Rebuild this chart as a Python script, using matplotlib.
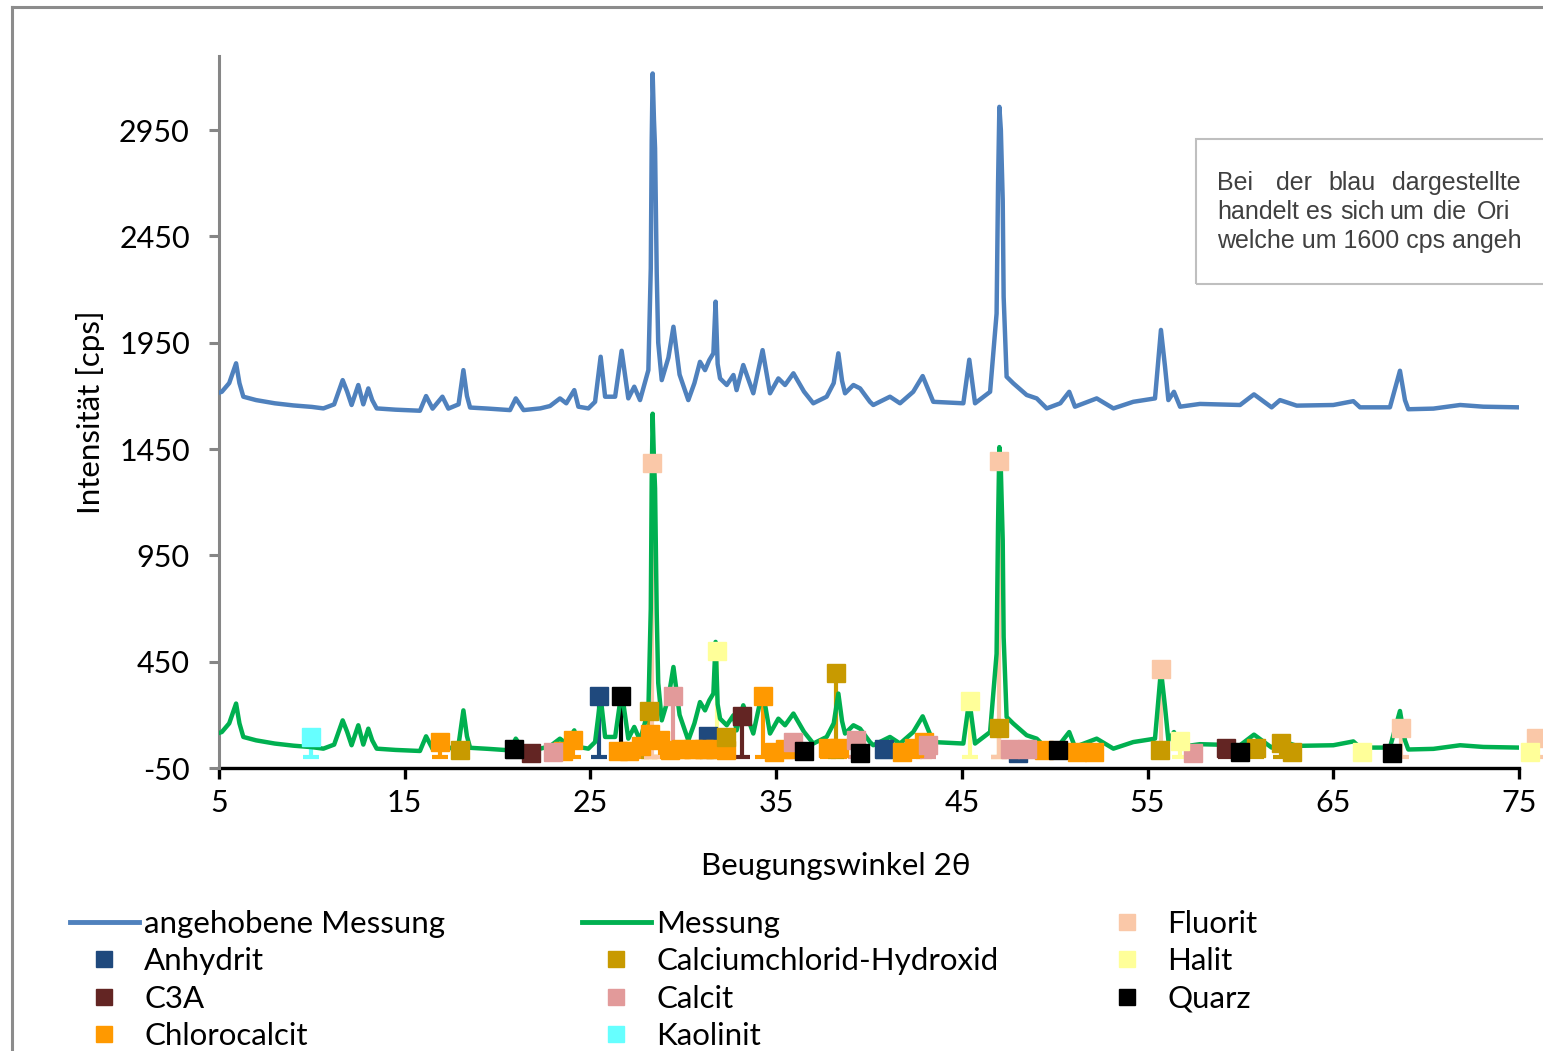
import numpy as np
import matplotlib.pyplot as plt
from matplotlib.lines import Line2D

plt.rcParams['font.family'] = ['Lato', 'DejaVu Sans']
plt.rcParams['axes.unicode_minus'] = False

winkel = [5.0, 5.15, 5.55, 5.92, 6.1, 6.31, 7.0, 8.0, 9.0, 10.0, 10.62, 11.2, 11.66, 11.9,
          12.14, 12.5, 12.77, 13.04, 13.25, 13.49, 14.5, 15.82, 16.15, 16.5, 17.03, 17.35,
          17.9, 18.16, 18.35, 18.52, 19.5, 20.67, 20.98, 21.4, 22.3, 22.82, 23.36, 23.7,
          24.13, 24.35, 24.89, 25.25, 25.55, 25.79, 26.33, 26.68, 27.04, 27.36, 27.67,
          28.12, 28.25, 28.3, 28.35, 28.42, 28.48, 28.57, 28.65, 28.84, 29.2, 29.47, 29.8,
          30.27, 30.6, 30.9, 31.17, 31.4, 31.62, 31.74, 31.85, 31.98, 32.34, 32.7, 32.87,
          33.23, 33.77, 34.27, 34.67, 35.12, 35.48, 35.93, 36.5, 37.0, 37.72, 38.1, 38.35,
          38.55, 38.71, 39.16, 39.52, 40.05, 40.23, 41.13, 41.67, 42.38, 42.89, 43.46,
          45.08, 45.4, 45.71, 46.52, 46.87, 46.95, 47.02, 47.1, 47.2, 47.25, 47.41, 47.77,
          48.49, 49.03, 49.57, 50.3, 50.78, 51.09, 52.26, 53.16, 54.23, 55.4, 55.72, 55.94,
          56.12, 56.42, 56.75, 57.82, 59.98, 60.73, 61.68, 62.13, 63.03, 65.0, 66.08, 66.44,
          68.05, 68.59, 68.86, 69.04, 70.39, 71.83, 73.08, 74.97]
messung = [115, 119, 160, 253, 160, 96, 80, 65, 55, 48, 41, 60, 174, 120,
           57, 151, 60, 135, 80, 41, 35, 30, 99, 40, 96, 40,
           60, 221, 100, 45, 40, 33, 88, 33, 41, 52, 88, 65,
           127, 49, 41, 72, 284, 96, 96, 312, 88, 143, 80,
           221, 700, 1300, 1616, 1400, 1265, 677, 350, 174, 280, 425, 200,
           80, 160, 260, 221, 268, 300, 543, 250, 182, 151, 198, 127,
           245, 112, 315, 112, 182, 151, 206, 120, 65, 96, 160, 300,
           170, 112, 151, 135, 72, 57, 96, 65, 119, 193, 72,
           65, 270, 65, 119, 487, 1100, 1459, 1350, 1021, 566, 190, 159,
           104, 88, 41, 65, 119, 49, 88, 41, 72, 88, 410, 237,
           80, 119, 49, 62, 57, 107, 46, 80, 54, 57, 75, 46,
           46, 218, 80, 37, 40, 57, 49, 46]
versatz = 1600  # blue curve is the measurement lifted by 1600 cps

# reference phases: (angle, height)
phasen = ['Anhydrit', 'C3A', 'Chlorocalcit', 'Calciumchlorid-Hydroxid', 'Calcit',
          'Kaolinit', 'Fluorit', 'Halit', 'Quarz']
farben = ['#1F497D', '#632523', '#FF9900', '#C89A00', '#E29A9A',
          '#66FFFF', '#FAC8A8', '#FFFF99', '#000000']
anhydrit = [(25.45, 290), (31.35, 100), (40.8, 40), (48.0, 20)]
c3a = [(21.8, 20), (33.15, 195), (59.2, 45)]
chlorocalcit = [(16.9, 72), (23.5, 30), (24.05, 82), (26.5, 30), (27.1, 30), (27.7, 55),
                (28.2, 110), (28.75, 80), (29.3, 35), (29.9, 40), (30.5, 40), (31.1, 40),
                (31.7, 40), (32.3, 35), (34.3, 290), (34.9, 25), (35.5, 40), (37.8, 45),
                (38.4, 45), (41.8, 25), (42.4, 45), (42.95, 72), (49.4, 35), (51.2, 25),
                (52.1, 25)]
cc_hydroxid = [(18.0, 35), (28.15, 218), (32.3, 96), (38.25, 397), (47.0, 140),
               (55.65, 35), (60.85, 45), (62.2, 67), (62.8, 25)]
calcit = [(23.0, 25), (29.42, 290), (35.9, 70), (39.3, 80), (43.2, 60), (47.6, 40),
          (48.5, 40), (57.45, 20)]
kaolinit = [(9.95, 95)]
fluorit = [(28.33, 1385), (47.02, 1392), (55.75, 415), (68.65, 138), (75.9, 90)]
halit = [(31.8, 500), (45.45, 265), (56.75, 75), (66.55, 25), (75.6, 25)]
quarz = [(20.88, 40), (26.65, 290), (36.5, 30), (39.5, 20), (50.2, 35), (60.0, 25),
         (68.15, 20)]
reflexe = [anhydrit, c3a, chlorocalcit, cc_hydroxid, calcit, kaolinit, fluorit, halit, quarz]

W, H = 1543, 1051
fig = plt.figure(figsize=(W / 100, H / 100), dpi=100)
ax = fig.add_axes([219 / W, 1 - 768 / H, 1300 / W, 712.4 / H])

x = np.array(winkel)
y = np.array(messung)
ax.plot(x, y + versatz, color='#4F81BD', lw=3.2, zorder=3, solid_joinstyle='round')
ax.plot(x, y, color='#00B050', lw=3.2, zorder=4, solid_joinstyle='round')

for pts, col in zip(reflexe, farben):
    px = [p[0] for p in pts]
    py = [p[1] for p in pts]
    ax.vlines(px, 0, py, colors=col, lw=3, zorder=2, clip_on=False)
    ax.plot(px, [0] * len(px), ls='none', marker='_', ms=11, mew=3, color=col,
            zorder=2, clip_on=False)
    ax.plot(px, py, ls='none', marker='s', ms=13, color=col, mec=col,
            zorder=5, clip_on=False)

ax.set_xlim(5, 75)
ax.set_ylim(-50, 3300)
ax.set_xticks(np.arange(5, 76, 10))
ax.set_yticks(np.arange(-50, 3000, 500))
for s in ['top', 'right']:
    ax.spines[s].set_visible(False)
ax.spines['left'].set_color('#868686')
ax.spines['left'].set_linewidth(2.2)
ax.spines['bottom'].set_color('black')
ax.spines['bottom'].set_linewidth(2.4)
ax.spines['bottom'].set_zorder(1)
ax.tick_params(axis='x', length=8, width=2.4, color='black', labelsize=22, pad=7)
ax.tick_params(axis='y', length=7, width=2.2, color='#868686', labelsize=22, pad=14)
ax.set_xlabel('Beugungswinkel 2θ', fontsize=22.5, labelpad=22)
ax.xaxis.set_label_coords((836 - 219) / 1300, -0.118)
ax.set_ylabel('Intensität [cps]', fontsize=22.5, labelpad=10)

# legend in three columns
def handles(idx):
    return [Line2D([], [], ls='none', marker='s', ms=11, color=farben[i]) for i in idx]

blau = Line2D([], [], color='#4F81BD', lw=3.5)
gruen = Line2D([], [], color='#00B050', lw=3.5)
spalten = [([blau] + handles([0, 1, 2]), ['angehobene Messung'] + phasen[0:3], 70),
           ([gruen] + handles([3, 4, 5]), ['Messung'] + phasen[3:6], 582),
           (handles([6, 7, 8]), phasen[6:9], 1093)]
for hs, labs, x0 in spalten:
    fig.legend(hs, labs, loc='upper left', bbox_to_anchor=(x0 / W, 1 - 910 / H),
               frameon=False, fontsize=22.5, handlelength=2.2, handletextpad=0.18,
               labelspacing=0.3, borderpad=0, borderaxespad=0)

# note box, cut off at the right edge like the original
fig.patches.append(plt.Rectangle((1196 / W, 1 - 284 / H), 400 / W, 145 / H,
                                 transform=fig.transFigure, fill=False,
                                 ec='#BFBFBF', lw=1.5))
zeilen = [[('Bei', 1217), ('der', 1276), ('blau', 1328), ('dargestellte', 1392)],
          [('handelt', 1217), ('es', 1306), ('sich', 1340), ('um', 1389), ('die', 1433),
           ('Ori', 1477)],
          [('welche um 1600 cps angeh', 1217)]]
for k, zeile in enumerate(zeilen):
    for wort, xp in zeile:
        fig.text(xp / W, 1 - (183 + 29 * k) / H, wort, fontsize=18, color='#404040',
                 family=['Liberation Sans', 'DejaVu Sans'], va='center', ha='left')

# outer chart frame
fig.add_artist(Line2D([12 / W, 12 / W], [0, 1 - 7 / H], color='#8C8C8C', lw=2.2,
                      transform=fig.transFigure))
fig.add_artist(Line2D([12 / W, 1], [1 - 7 / H, 1 - 7 / H], color='#8C8C8C', lw=2.2,
                      transform=fig.transFigure))

fig.savefig('out.png', dpi=100)
